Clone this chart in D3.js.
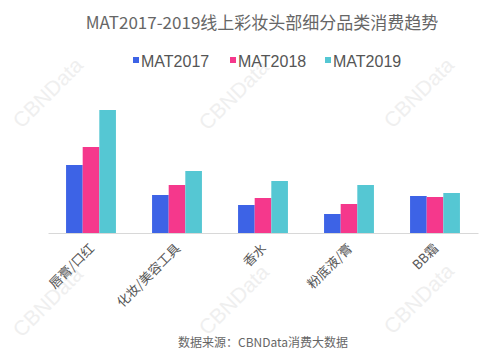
<!DOCTYPE html>
<html>
<head>
<meta charset="utf-8">
<script src="https://cdn.jsdelivr.net/npm/d3@7"></script>
<style>
  body { margin: 0; background: #fff; }
  svg { display: block; font-family: "Noto Sans CJK SC", "Liberation Sans", sans-serif; }
</style>
</head>
<body>
<div id="chart"></div>
<script>
//Datos
const categories = ['唇膏/口红', '化妆/美容工具', '香水', '粉底液/膏', 'BB霜'];
const seriesNames = ['MAT2017', 'MAT2018', 'MAT2019'];
const mat2017 = [68, 38, 28, 19, 37];
const mat2018 = [86, 48, 35, 29, 36];
const mat2019 = [123, 62, 52, 48, 40];
const colors = ['#3d63e6', '#f5388c', '#55c7d3'];

const W = 501, H = 358;
const margin = {top: 103, right: 23, bottom: 125, left: 48};
const width = W - margin.left - margin.right,
    height = H - margin.top - margin.bottom;

let svg = d3.select('#chart')
    .append('svg')
    .attr('width', W)
    .attr('height', H);

//Marcas de agua
const wm = [[49, 94], [235, 96], [420, 94], [49, 303], [235, 301], [420, 300]];
svg.append('g')
    .selectAll('text')
    .data(wm)
    .enter()
    .append('text')
    .attr('transform', d => 'translate(' + d[0] + ',' + d[1] + ') rotate(-45)')
    .attr('text-anchor', 'middle')
    .attr('dominant-baseline', 'middle')
    .style('font-family', '"Liberation Sans", sans-serif')
    .style('font-size', '21px')
    .attr('fill', '#efefef')
    .text('CBNData');

//Título
svg.append('text')
    .attr('x', 262)
    .attr('y', 29)
    .attr('text-anchor', 'middle')
    .style('font-size', '17px')
    .attr('fill', '#666')
    .text('MAT2017-2019线上彩妆头部细分品类消费趋势');

//Leyenda
const legendX = [133, 230, 325];
let legend = svg.append('g');
seriesNames.forEach(function(name, i) {
    legend.append('rect')
        .attr('x', legendX[i])
        .attr('y', 57)
        .attr('width', 6)
        .attr('height', 6)
        .attr('fill', colors[i]);
    legend.append('text')
        .attr('x', legendX[i] + 8)
        .attr('y', 67)
        .style('font-family', '"Liberation Sans", sans-serif')
        .style('font-size', '16px')
        .attr('fill', '#555')
        .text(name);
});

let g = svg.append('g')
    .attr('transform', 'translate(' + margin.left + ',' + margin.top + ')');

let x0 = d3.scaleBand()
    .domain(categories)
    .range([0, width])
    .paddingInner(0.42)
    .paddingOuter(0.21);

let x1 = d3.scaleBand()
    .domain(seriesNames)
    .range([0, x0.bandwidth()]);

let y = d3.scaleLinear()
    .domain([0, 130])
    .range([height, 0]);

const series = [mat2017, mat2018, mat2019];
let rows = categories.map(function(c, i) {
    return seriesNames.map(function(s, j) { return {cat: c, key: s, value: series[j][i], color: colors[j]}; });
});

g.selectAll('.grp')
    .data(rows)
    .enter()
    .append('g')
    .attr('class', 'grp')
    .attr('transform', (d, i) => 'translate(' + x0(categories[i]) + ',0)')
    .selectAll('rect')
    .data(d => d)
    .enter()
    .append('rect')
    .attr('x', d => x1(d.key))
    .attr('y', d => y(d.value))
    .attr('width', x1.bandwidth())
    .attr('height', d => height - y(d.value))
    .attr('fill', d => d.color);

//Eje X
let xAxis = g.append('g')
    .attr('transform', 'translate(0,' + height + ')')
    .call(d3.axisBottom(x0).tickSize(0).tickSizeOuter(0));
xAxis.select('.domain').attr('stroke', '#d8d8d8');
xAxis.selectAll('text')
    .attr('transform', 'translate(1,13) rotate(-45)')
    .attr('dy', '0.35em')
    .attr('x', 0)
    .attr('y', 0)
    .style('text-anchor', 'end')
    .style('font-family', '"Noto Sans CJK SC", sans-serif')
    .style('font-size', '13px')
    .attr('fill', '#555');

//Fuente
svg.append('text')
    .attr('x', 263)
    .attr('y', 347)
    .attr('text-anchor', 'middle')
    .style('font-size', '12px')
    .attr('fill', '#666')
    .text('数据来源：CBNData消费大数据');
</script>
</body>
</html>
